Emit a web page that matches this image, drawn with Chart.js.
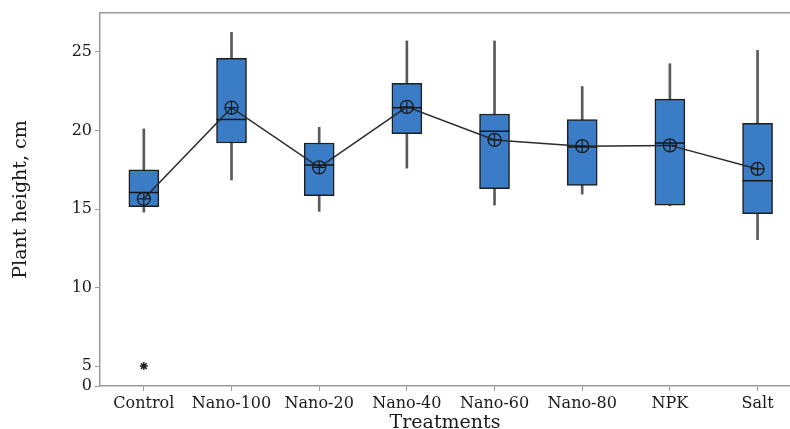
<!DOCTYPE html>
<html>
<head>
<meta charset="utf-8">
<script src="https://cdn.jsdelivr.net/npm/chart.js@4.4.1/dist/chart.umd.min.js"></script>
<style>
  html, body { margin: 0; padding: 0; background: #fff; }
  #wrap { width: 790px; height: 429px; }
</style>
</head>
<body>
<div id="wrap"><canvas id="box_chart" width="790" height="429"></canvas></div>
<script>
'use strict';

// treatments and the box plot summary values (cm)
var categories = ['Control', 'Nano-100', 'Nano-20', 'Nano-40', 'Nano-60', 'Nano-80', 'NPK', 'Salt'];
var whiskerLow = [14.8, 16.85, 14.85, 17.6, 15.25, 15.95, 15.2, 13.05];
var q1 = [15.15, 19.2, 15.85, 19.8, 16.3, 16.5, 15.25, 14.7];
var median = [16.05, 20.7, 17.8, 21.45, 19.95, 18.95, 19.2, 16.8];
var q3 = [17.5, 24.6, 19.2, 23.0, 21.05, 20.7, 22.0, 20.45];
var whiskerHigh = [20.1, 26.25, 20.2, 25.7, 25.7, 22.8, 24.25, 25.1];
var means = [15.65, 21.45, 17.65, 21.5, 19.4, 19.0, 19.05, 17.55];
var outlierCat = [0];
var outlierVal = [5];

// y axis is broken: the "0" label sits at the bottom edge
var yTicks = [5, 10, 15, 20, 25];
var yBreak = 3.73;
var yTop = 27.48;

var FONT = "'DejaVu Serif', 'Liberation Serif', serif";
var axisGray = '#9a9a9a';

function pts(vals) {
    return vals.map(function(v, i) { return { x: i, y: v }; });
}
function ranges(lo, hi) {
    return lo.map(function(v, i) { return { x: i, y: [v, hi[i]] }; });
}
function noPad(scale) {
    scale.paddingLeft = 0;
    scale.paddingRight = 0;
    scale.paddingTop = 0;
    scale.paddingBottom = 0;
}

var ctx = document.getElementById('box_chart').getContext('2d');
new Chart(ctx, {
    data: {
        datasets: [{
            type: 'bar',
            label: 'whisker',
            data: ranges(whiskerLow, whiskerHigh),
            backgroundColor: '#5a5a5a',
            borderWidth: 0,
            barThickness: 2,
            grouped: false,
            order: 6
        }, {
            type: 'bar',
            label: 'box',
            data: ranges(q1, q3),
            backgroundColor: '#3b7cc6',
            borderColor: '#1e1e1e',
            borderWidth: 1.5,
            borderSkipped: false,
            barThickness: 30,
            grouped: false,
            order: 5
        }, {
            type: 'scatter',
            label: 'median',
            data: pts(median),
            pointStyle: 'line',
            pointRadius: 15,
            borderColor: '#151515',
            borderWidth: 1.5,
            order: 4
        }, {
            type: 'line',
            label: 'mean',
            data: pts(means),
            borderColor: '#2a2a2a',
            borderWidth: 1.5,
            pointStyle: 'circle',
            pointRadius: 6.5,
            pointBorderWidth: 1.3,
            pointBackgroundColor: 'rgba(0,0,0,0)',
            pointBorderColor: '#1a1a1a',
            order: 3
        }, {
            type: 'scatter',
            label: 'mean cross',
            data: pts(means),
            pointStyle: 'cross',
            pointRadius: 6.5,
            borderColor: '#1a1a1a',
            borderWidth: 1.2,
            order: 2
        }, {
            type: 'scatter',
            label: 'outlier',
            data: outlierCat.map(function(c, i) { return { x: c, y: outlierVal[i] }; }),
            pointStyle: 'star',
            pointRadius: 4,
            borderColor: '#222',
            borderWidth: 1.5,
            order: 1
        }]
    },
    options: {
        responsive: false,
        animation: false,
        layout: { autoPadding: false, padding: { top: 13, left: 0, right: 0, bottom: 0 } },
        plugins: {
            legend: { display: false },
            tooltip: { enabled: false }
        },
        scales: {
            x: {
                type: 'linear',
                position: 'bottom',
                offset: false,
                min: -0.5,
                max: 7.37,
                afterBuildTicks: function(scale) {
                    scale.ticks = categories.map(function(c, i) { return { value: i }; });
                },
                afterFit: function(scale) { scale.height = 43; noPad(scale); },
                ticks: {
                    autoSkip: false,
                    maxRotation: 0,
                    padding: 3,
                    color: '#1a1a1a',
                    font: { family: FONT, size: 16 },
                    callback: function(v) { return categories[v]; }
                },
                grid: { offset: false, drawOnChartArea: false, drawTicks: true, tickLength: 5, color: axisGray },
                border: { color: axisGray, width: 1.5 },
                title: {
                    display: true,
                    text: 'Treatments',
                    color: '#1a1a1a',
                    padding: { top: 0, bottom: -5 },
                    font: { family: FONT, size: 19 }
                }
            },
            xTop: {
                type: 'linear',
                position: 'top',
                offset: false,
                min: -0.5,
                max: 7.37,
                afterFit: function(scale) { scale.height = 0; noPad(scale); },
                ticks: { display: false },
                grid: { display: false },
                border: { color: axisGray, width: 1.5 }
            },
            y: {
                type: 'linear',
                min: yBreak,
                max: yTop,
                afterBuildTicks: function(scale) {
                    scale.ticks = [{ value: yBreak }].concat(yTicks.map(function(v) { return { value: v }; }));
                },
                afterFit: function(scale) { scale.width = 100; noPad(scale); },
                ticks: {
                    padding: 3,
                    color: '#1a1a1a',
                    font: { family: FONT, size: 16 },
                    callback: function(v) { return v < 4 ? '0' : v; }
                },
                grid: { drawOnChartArea: false, drawTicks: true, tickLength: 5, color: axisGray },
                border: { color: axisGray, width: 1.5 },
                title: {
                    display: true,
                    text: 'Plant height, cm',
                    color: '#1a1a1a',
                    padding: { top: 10, bottom: 0 },
                    font: { family: FONT, size: 19 }
                }
            }
        }
    }
});
</script>
</body>
</html>
